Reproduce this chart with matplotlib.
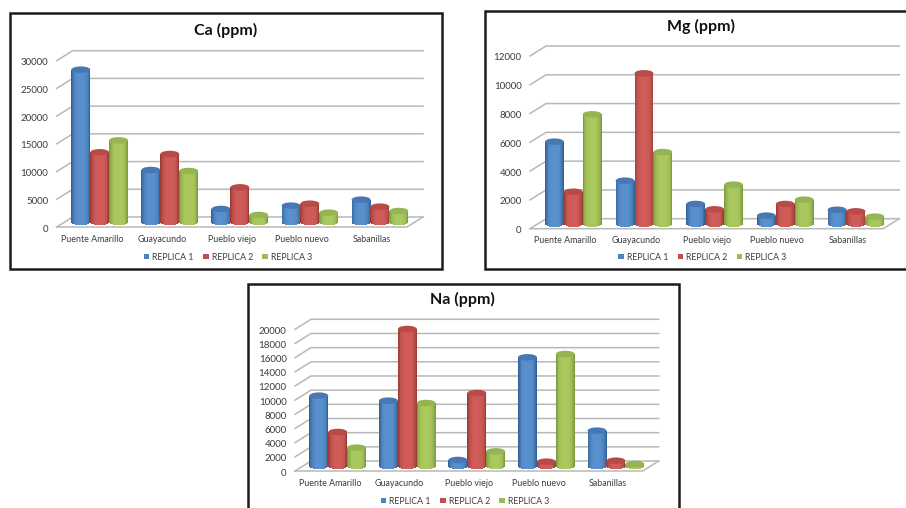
import numpy as np
import matplotlib
matplotlib.use("Agg")
import matplotlib.pyplot as plt
from matplotlib.patches import Ellipse, Rectangle, Patch
from matplotlib.transforms import ScaledTranslation

categories = ["Puente Amarillo", "Guayacundo", "Pueblo viejo", "Pueblo nuevo", "Sabanillas"]
series_names = ["REPLICA 1", "REPLICA 2", "REPLICA 3"]

ca_r1 = [27480, 9380, 2350, 2950, 4030]
ca_r2 = [12570, 12270, 6250, 3300, 2770]
ca_r3 = [14730, 9200, 1260, 1680, 1980]

mg_r1 = [5700, 2990, 1370, 560, 970]
mg_r2 = [2220, 10450, 1000, 1370, 860]
mg_r3 = [7600, 4980, 2710, 1670, 490]

na_r1 = [9930, 9220, 850, 15340, 4990]
na_r2 = [4800, 19340, 10300, 610, 750]
na_r3 = [2590, 8890, 2070, 15810, 280]

ca_ticks = [0, 5000, 10000, 15000, 20000, 25000, 30000]
mg_ticks = [0, 2000, 4000, 6000, 8000, 10000, 12000]
na_ticks = [0, 2000, 4000, 6000, 8000, 10000, 12000, 14000, 16000, 18000, 20000]

W, H = 906, 508
plt.rcParams["font.family"] = ["Lato", "DejaVu Sans"]
fig = plt.figure(figsize=(W / 100, H / 100), dpi=100, facecolor="white")

DEPTH_X, DEPTH_Y = 16.0, 10.0
BAR_W = 18.9
ELL_H = 6.5
N_SLICES = 22
EDGE = ["#2c5a90", "#93362f", "#769338"]
MID = ["#5890cd", "#d05c59", "#a9c95f"]
TOP = ["#4778b3", "#b84a47", "#94b552"]
GRID = "#b8b8b8"
TXT = "#3c3c3c"


def mix(a, b, t):
    ca = np.array(matplotlib.colors.to_rgb(a))
    cb = np.array(matplotlib.colors.to_rgb(b))
    return tuple(ca + (cb - ca) * t)


def panel(box, front, title, title_xy, legend_xy, series, ticks):
    # box: (x0, y0, x1, y1) px; front: (left, right, y_zero, y_max) px
    bx0, by0, bx1, by1 = box
    fig.add_artist(Rectangle((bx0 / W, 1 - by1 / H), (bx1 - bx0) / W, (by1 - by0) / H,
                             transform=fig.transFigure, fc="white", ec="#1c1c1c", lw=1.8, zorder=0))
    left, right, y0, yt = front
    ax = fig.add_axes([left / W, 1 - y0 / H, (right - left) / W, (y0 - yt) / H], zorder=2)
    ax.patch.set_alpha(0)
    ymax = ticks[-1]
    ax.set_xlim(0, len(categories))
    ax.set_ylim(0, ymax)
    for s in ax.spines.values():
        s.set_visible(False)
    ux = (right - left) / len(categories)   # px per category
    uy = (y0 - yt) / ymax                   # px per value unit
    dx, dy = DEPTH_X / ux, DEPTH_Y / uy

    n = len(categories)
    for t in ticks:
        ax.plot([0, dx, n + dx], [t, t + dy, t + dy], color=GRID, lw=1.1, clip_on=False, zorder=1)
    ax.plot([0, n, n + dx], [0, 0, dy], color=GRID, lw=1.1, clip_on=False, zorder=1)

    ax.set_xticks(np.arange(n) + 0.5)
    ax.set_xticklabels(categories, fontsize=6.4, color=TXT)
    ax.set_yticks(ticks)
    ax.set_yticklabels([str(t) for t in ticks], fontsize=7.0, color=TXT)
    ax.tick_params(length=0, axis="x", pad=5.5)
    ax.tick_params(length=0, axis="y", pad=6)
    shift = ScaledTranslation(0, -1 / 100, fig.dpi_scale_trans)
    for lab in ax.get_yticklabels():
        lab.set_transform(lab.get_transform() + shift)

    bw = BAR_W / ux
    eh = ELL_H / uy
    base = dy / 2
    for si, vals in enumerate(series):
        for ci, v in enumerate(vals):
            cx = ci + 0.5 + dx / 2 + (si - 1) * bw
            edges = np.linspace(-1, 1, N_SLICES + 1)
            for a, b in zip(edges[:-1], edges[1:]):
                u = (a + b) / 2
                col = mix(MID[si], EDGE[si], min(1, abs(u) ** 3.5))
                low = base - eh / 2 * np.sqrt(1 - u * u)
                ax.bar(cx + u * bw / 2, base + v - low, bottom=low, width=bw / N_SLICES * 1.08,
                       color=col, lw=0, clip_on=False, zorder=3 + si + ci * 5)
            ax.add_patch(Ellipse((cx, base + v), bw, eh, fc=TOP[si], ec="none",
                                 clip_on=False, zorder=3.5 + si + ci * 5))

    fig.text(title_xy[0] / W, 1 - title_xy[1] / H, title, fontsize=11.5, fontweight="bold",
             color="#111111", ha="center", va="center", zorder=5)
    handles = [Patch(fc=c, ec="none") for c in ["#4f81bd", "#c0504d", "#9bbb59"]]
    leg = fig.legend(handles, series_names, ncol=3, loc="center",
                     bbox_to_anchor=(legend_xy[0] / W, 1 - legend_xy[1] / H),
                     frameon=False, fontsize=6.3, handlelength=0.6, handleheight=0.55,
                     handletextpad=0.35, columnspacing=1.1, borderpad=0, labelcolor=TXT)
    leg.set_zorder(5)


panel((10, 13, 442, 269), (56.7, 407, 227, 60.7), "Ca (ppm)", (226, 30), (228, 257),
      [ca_r1, ca_r2, ca_r3], ca_ticks)
panel((485, 11, 930, 269), (530, 883.3, 228.7, 56), "Mg (ppm)", (701, 26.5), (702.5, 257),
      [mg_r1, mg_r2, mg_r3], mg_ticks)
panel((247.5, 284, 679, 530), (295, 642.7, 471, 329.3), "Na (ppm)", (462.7, 299), (465, 501),
      [na_r1, na_r2, na_r3], na_ticks)

fig.savefig("out.png", dpi=100, facecolor="white")
